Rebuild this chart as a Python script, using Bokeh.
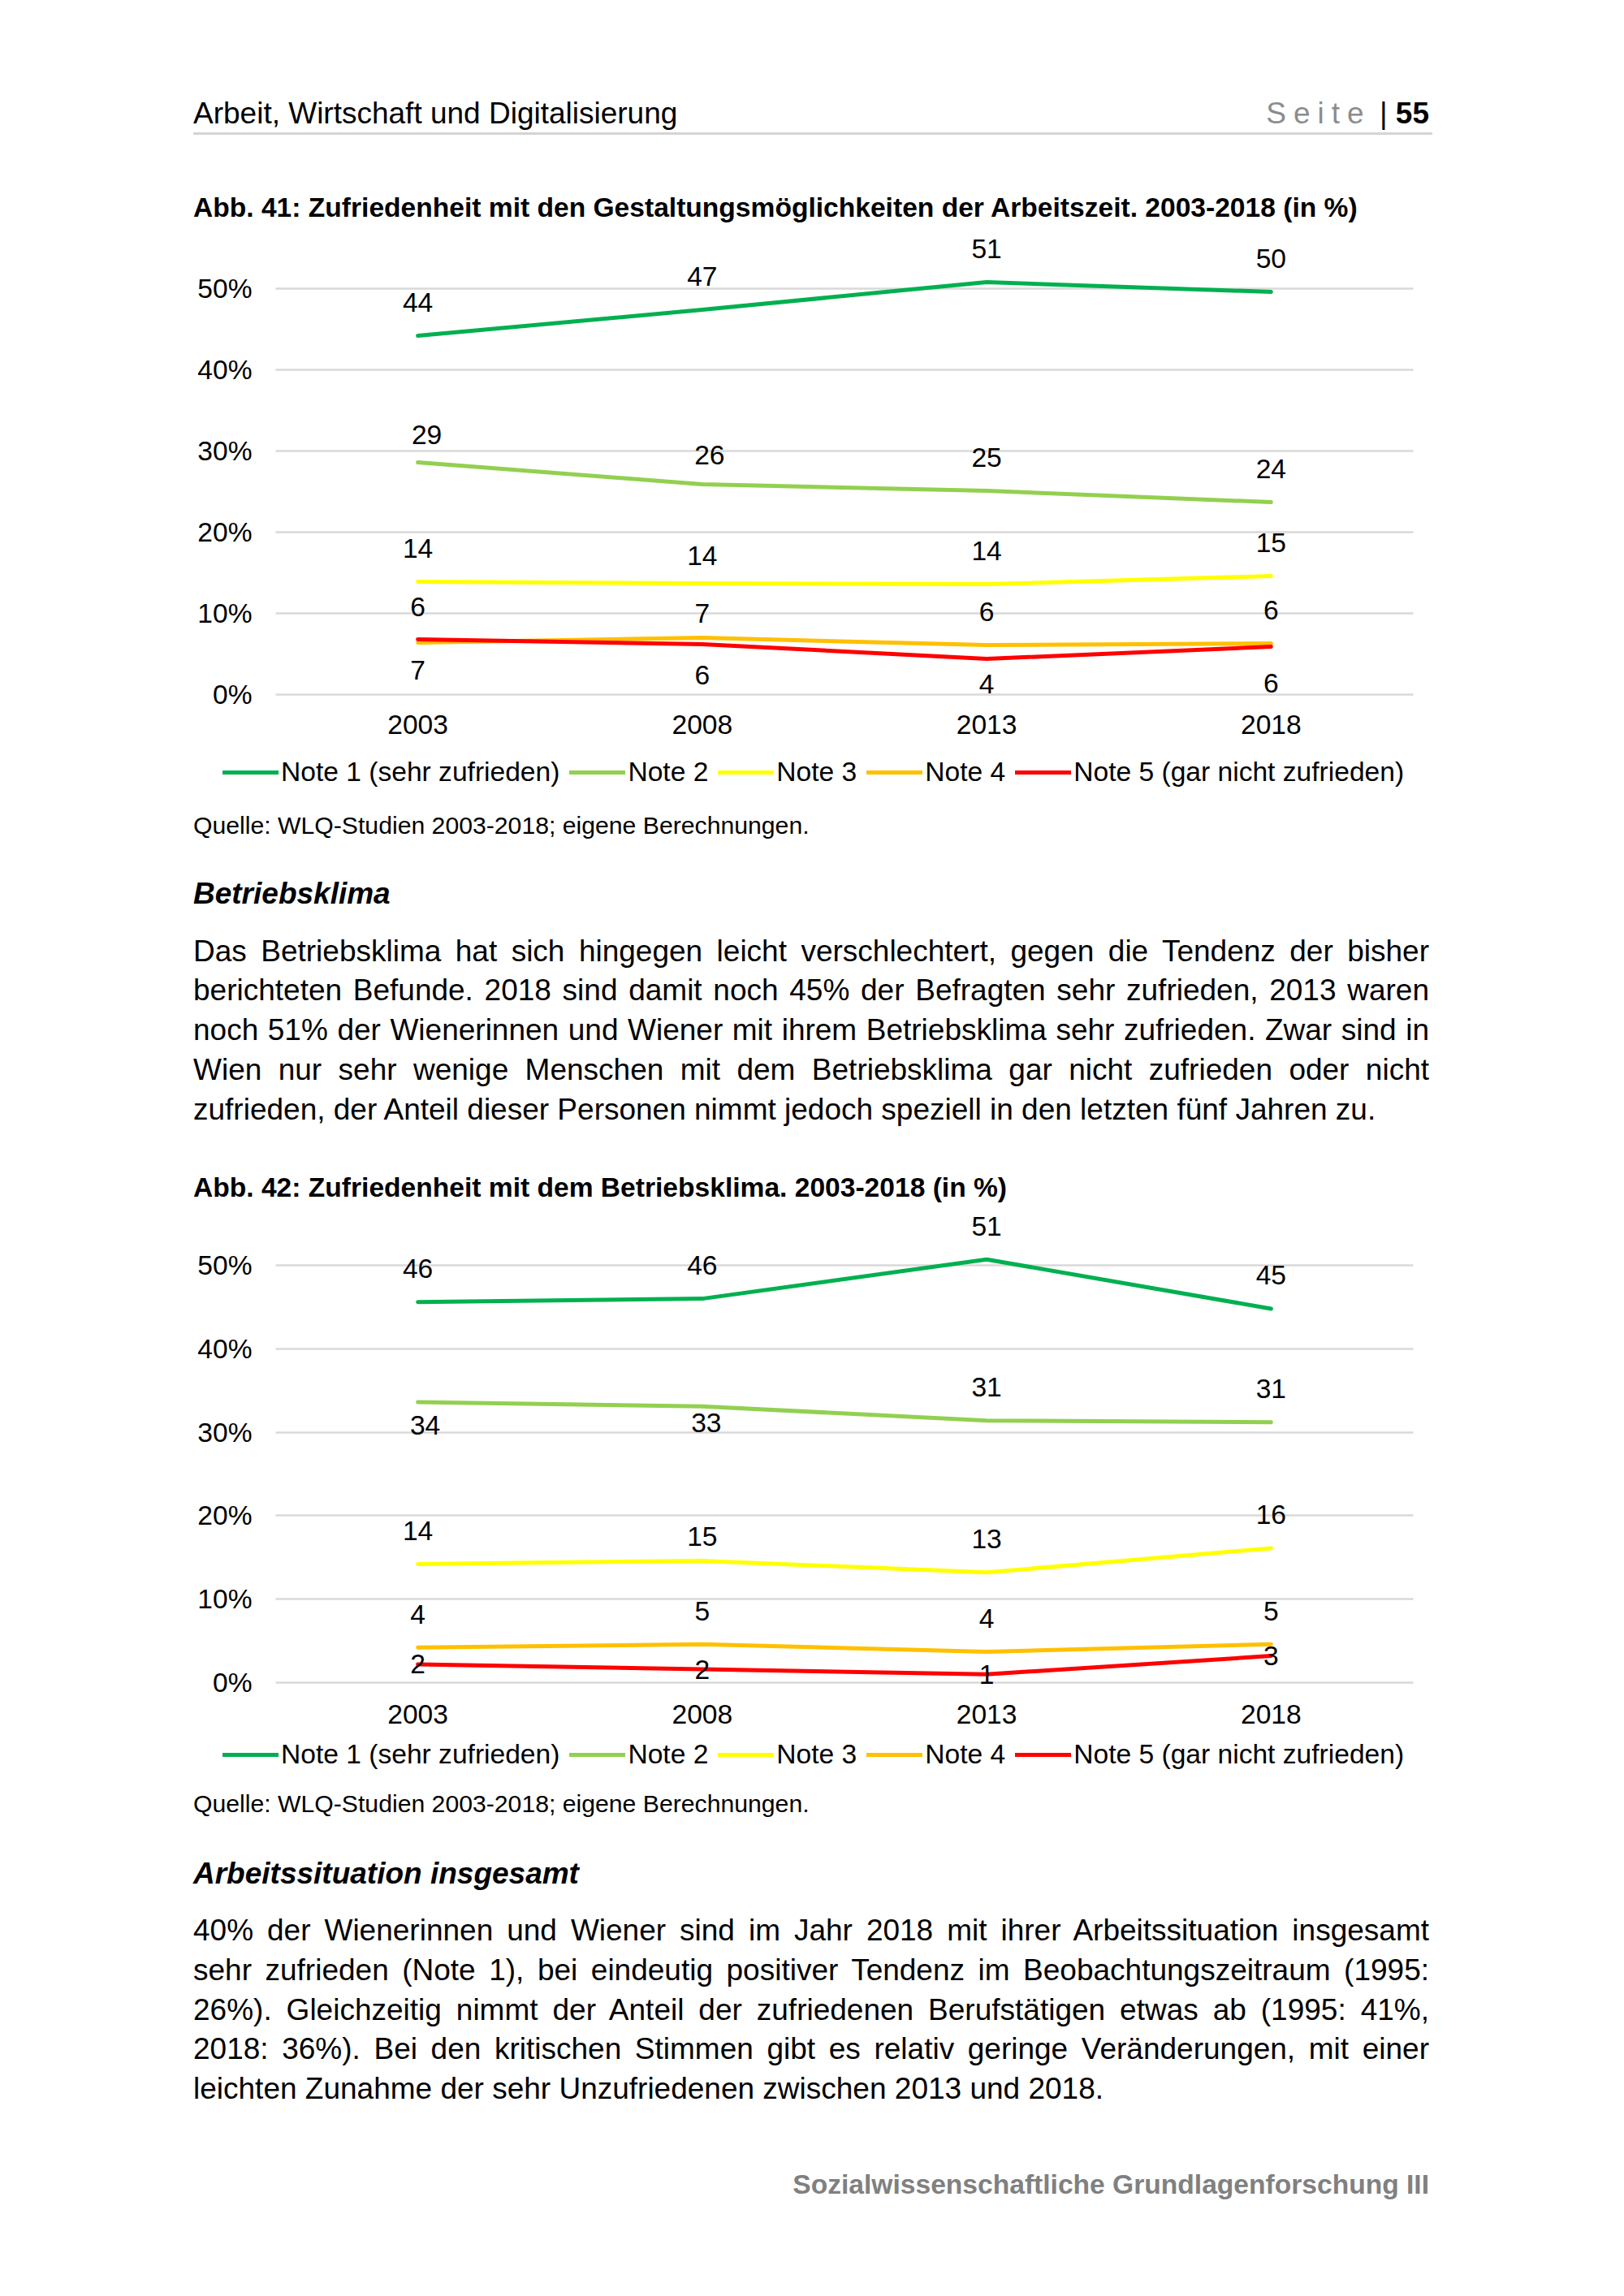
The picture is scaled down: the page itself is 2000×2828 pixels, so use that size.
from bokeh.plotting import figure
from bokeh.models import (ColumnDataSource, LabelSet, Legend, LegendItem, FixedTicker,
                          PrintfTickFormatter, Div, Range1d)
from bokeh.layouts import column
from bokeh.core.properties import value
from bokeh.embed import file_html
from bokeh.resources import INLINE

FONT = "Liberation Sans"

# ---------------- data ----------------
years = ["2003", "2008", "2013", "2018"]
series_names = ["Note 1 (sehr zufrieden)", "Note 2", "Note 3", "Note 4",
                "Note 5 (gar nicht zufrieden)"]
series_colors = ["#00B050", "#92D050", "#FFFF00", "#FFC000", "#FF0000"]
y_ticks = [0, 10, 20, 30, 40, 50]

# Abb. 41: Gestaltungsmöglichkeiten der Arbeitszeit
arbeitszeit_note1 = [44.2, 47.4, 50.8, 49.6]
arbeitszeit_note2 = [28.6, 25.9, 25.1, 23.7]
arbeitszeit_note3 = [13.9, 13.7, 13.6, 14.6]
arbeitszeit_note4 = [6.4, 7.0, 6.1, 6.3]
arbeitszeit_note5 = [6.8, 6.2, 4.4, 5.9]

# Abb. 42: Betriebsklima
klima_note1 = [45.6, 46.0, 50.7, 44.8]
klima_note2 = [33.6, 33.1, 31.4, 31.2]
klima_note3 = [14.2, 14.6, 13.2, 16.1]
klima_note4 = [4.2, 4.6, 3.7, 4.6]
klima_note5 = [2.2, 1.6, 1.0, 3.2]

# data-label placement (style, screen px: dy > 0 is above the point)
arbeitszeit_label_dy = [[41, 41, 41, 41], [34, 36, 41, 41], [41, 34, 41, 41],
                        [44, 30, 41, 41], [-38, -38, -31, -45]]
arbeitszeit_label_dx = [[0, 0, 0, 0], [11, 9, 0, 0], [0, 0, 0, 0], [0, 0, 0, 0], [0, 0, 0, 0]]
klima_label_dy = [[41, 41, 41, 41], [-28, -20, 41, 41], [41, 30, 41, 41],
                  [41, 41, 41, 41], [0, 0, 0, 0]]
klima_label_dx = [[0, 0, 0, 0], [9, 5, 0, 0], [0, 0, 0, 0], [0, 0, 0, 0], [0, 0, 0, 0]]

# ---------------- texts ----------------
header_left = "Arbeit, Wirtschaft und Digitalisierung"
title1 = "Abb. 41: Zufriedenheit mit den Gestaltungsmöglichkeiten der Arbeitszeit. 2003-2018 (in %)"
title2 = "Abb. 42: Zufriedenheit mit dem Betriebsklima. 2003-2018 (in %)"
source_text = "Quelle: WLQ-Studien 2003-2018; eigene Berechnungen."
heading1 = "Betriebsklima"
para1 = [
    "Das Betriebsklima hat sich hingegen leicht verschlechtert, gegen die Tendenz der bisher",
    "berichteten Befunde. 2018 sind damit noch 45% der Befragten sehr zufrieden, 2013 waren",
    "noch 51% der Wienerinnen und Wiener mit ihrem Betriebsklima sehr zufrieden. Zwar sind in",
    "Wien nur sehr wenige Menschen mit dem Betriebsklima gar nicht zufrieden oder nicht",
    "zufrieden, der Anteil dieser Personen nimmt jedoch speziell in den letzten fünf Jahren zu.",
]
heading2 = "Arbeitssituation insgesamt"
para2 = [
    "40% der Wienerinnen und Wiener sind im Jahr 2018 mit ihrer Arbeitssituation insgesamt",
    "sehr zufrieden (Note 1), bei eindeutig positiver Tendenz im Beobachtungszeitraum (1995:",
    "26%). Gleichzeitig nimmt der Anteil der zufriedenen Berufstätigen etwas ab (1995: 41%,",
    "2018: 36%). Bei den kritischen Stimmen gibt es relativ geringe Veränderungen, mit einer",
    "leichten Zunahme der sehr Unzufriedenen zwischen 2013 und 2018.",
]
footer_text = "Sozialwissenschaftliche Grundlagenforschung III"

# ---------------- layout constants (page px) ----------------
PAGE_W = 1984
TEXT_L, TEXT_R = 238, 1760
FRAME_L, FRAME_R = 339, 1740
DY = 3  # small vertical correction for text blocks


def tline(block_top, baseline, text, size, left=TEXT_L, width=None, weight="normal",
          style="normal", color="#000", align="left", justify=False, extra=""):
    L = round(size * 1.3)
    top = baseline - block_top - (L / 2 + 0.3465 * size)
    w = width if width is not None else TEXT_R - left
    css = (f"position:absolute;left:{left}px;top:{top:.1f}px;width:{w}px;"
           f"font-family:'{FONT}';font-size:{size}px;line-height:{L}px;"
           f"font-weight:{weight};font-style:{style};color:{color};")
    if justify:
        css += "text-align:justify;text-align-last:justify;"
    else:
        css += f"text-align:{align};white-space:nowrap;"
    css += extra
    return f'<div style="{css}">{text}</div>'


def block(top_page, bottom_page, items):
    h = bottom_page - top_page
    html = (f'<div style="position:relative;width:{PAGE_W}px;height:{h}px;">'
            + "".join(items) + "</div>")
    return Div(text=html, width=PAGE_W, height=h, margin=0)


def paragraph(block_top, first_baseline, lines, step=48.7):
    out = []
    for i, ln in enumerate(lines):
        last = i == len(lines) - 1
        out.append(tline(block_top, first_baseline + i * step, ln, 37,
                         width=TEXT_R - TEXT_L, justify=not last))
    return out


def build_chart(series_values, label_dx, label_dy, fig_top, fig_bottom, zero_px, px_per_unit,
                x_standoff, legend_center):
    n = len(years)
    ppx = (FRAME_R - FRAME_L) / n
    x_pos = [i + 1 for i in range(n)]
    x0 = 0.5  # left edge of first category
    p = figure(x_range=Range1d(x0 - FRAME_L / ppx, x0 + (PAGE_W - FRAME_L) / ppx),
               y_range=Range1d(-(fig_bottom - zero_px) / px_per_unit,
                               (zero_px - fig_top) / px_per_unit),
               width=PAGE_W, height=fig_bottom - fig_top, output_backend="svg",
               toolbar_location=None, min_border=0, min_border_left=0,
               min_border_right=0, min_border_top=0, min_border_bottom=0)
    p.outline_line_color = None
    p.xgrid.grid_line_color = None
    p.ygrid.ticker = FixedTicker(ticks=y_ticks)
    grid_color, grid_width = "#D9D9D9", 2.5
    p.ygrid.grid_line_color = grid_color
    p.ygrid.grid_line_width = grid_width
    try:
        p.ygrid.cross_bounds = (x0, x0 + n)
    except Exception:
        p.ygrid.grid_line_color = None
        p.segment(x0=[x0] * len(y_ticks), x1=[x0 + n] * len(y_ticks), y0=y_ticks, y1=y_ticks,
                  line_color=grid_color, line_width=grid_width, level="underlay")

    for ax in (p.xaxis[0], p.yaxis[0]):
        ax.axis_line_color = None
        ax.major_tick_line_color = None
        ax.minor_tick_line_color = None
        ax.major_tick_out = 0
        ax.major_tick_in = 0
        ax.minor_tick_out = 0
        ax.major_label_text_font = FONT
        ax.major_label_text_font_size = "33.6px"
        ax.major_label_text_color = "black"
    p.yaxis[0].fixed_location = x0
    p.yaxis[0].ticker = FixedTicker(ticks=y_ticks)
    p.yaxis[0].formatter = PrintfTickFormatter(format="%d%%")
    p.yaxis[0].major_label_standoff = 29
    p.xaxis[0].fixed_location = 0
    p.xaxis[0].ticker = FixedTicker(ticks=x_pos)
    p.xaxis[0].major_label_overrides = {x: yr for x, yr in zip(x_pos, years)}
    p.xaxis[0].major_label_standoff = x_standoff

    items = []
    lx, ly, lt, lox, loy = [], [], [], [], []
    for name, vals, color, dxs, dys in zip(series_names, series_values, series_colors,
                                           label_dx, label_dy):
        r = p.line(x_pos, vals, line_color=color, line_width=5,
                   line_join="round", line_cap="round")
        items.append(LegendItem(label=name, renderers=[r]))
        for xp, v, dx, dy in zip(x_pos, vals, dxs, dys):
            lx.append(xp)
            ly.append(v)
            lt.append(f"{v:.0f}")
            lox.append(dx)
            loy.append(dy)
    src = ColumnDataSource(dict(x=lx, y=ly, text=lt, xo=lox, yo=loy))
    labels = LabelSet(x="x", y="y", text="text", x_offset="xo", y_offset="yo", source=src,
                      text_align="center", text_baseline="middle",
                      text_font=value(FONT), text_font_size=value("33.6px"),
                      text_color="black")
    p.add_layout(labels)

    leg_h = 34
    legend = Legend(items=items, orientation="horizontal",
                    location=(274, fig_bottom - (legend_center + leg_h / 2)),
                    glyph_width=69, glyph_height=leg_h, label_height=leg_h,
                    label_standoff=3, spacing=12, padding=0, margin=0,
                    border_line_color=None, background_fill_alpha=0,
                    label_text_font=FONT, label_text_font_size="33.6px",
                    label_text_color="black")
    p.add_layout(legend)
    return p


# ---------------- blocks ----------------
A_TOP, A_BOT = 0, 275
F1_TOP, F1_BOT = 275, 985
B_TOP, B_BOT = 985, 1488
F2_TOP, F2_BOT = 1488, 2190
C_TOP, C_BOT = 2190, 2820

seite = ('<span style="color:#8C8C8C;letter-spacing:9px">Seite</span>'
         '<span style="color:#000"> | </span><b>55</b>')
div_a = block(A_TOP, A_BOT, [
    tline(A_TOP, 153, header_left, 37),
    tline(A_TOP, 153, seite, 37, left=0, width=TEXT_R, align="right"),
    f'<div style="position:absolute;left:{TEXT_L}px;top:{164 - A_TOP - 1.5}px;'
    f'width:{1764 - TEXT_L}px;height:3px;background:#D4D4D4"></div>',
    tline(A_TOP, 265 + DY, title1, 33.6, weight="bold"),
])

chart1 = build_chart(
    [arbeitszeit_note1, arbeitszeit_note2, arbeitszeit_note3, arbeitszeit_note4, arbeitszeit_note5],
    arbeitszeit_label_dx, arbeitszeit_label_dy,
    F1_TOP, F1_BOT, zero_px=855, px_per_unit=10.0, x_standoff=25, legend_center=953)

div_b = block(B_TOP, B_BOT, [
    tline(B_TOP, 1024 + DY, source_text, 30.2),
    tline(B_TOP, 1111 + DY, heading1, 37, weight="bold", style="italic"),
    *paragraph(B_TOP, 1181.5 + DY, para1),
    tline(B_TOP, 1472 + DY, title2, 33.6, weight="bold"),
])

chart2 = build_chart(
    [klima_note1, klima_note2, klima_note3, klima_note4, klima_note5],
    klima_label_dx, klima_label_dy,
    F2_TOP, F2_BOT, zero_px=2072, px_per_unit=10.28, x_standoff=27, legend_center=2162.5)

div_c = block(C_TOP, C_BOT, [
    tline(C_TOP, 2229 + DY, source_text, 30.2),
    tline(C_TOP, 2318 + DY, heading2, 37, weight="bold", style="italic"),
    *paragraph(C_TOP, 2388 + DY, para2),
    tline(C_TOP, 2700 + DY, footer_text, 33.6, left=0, width=TEXT_R, weight="bold",
          color="#808080", align="right"),
])

page = column(div_a, chart1, div_b, chart2, div_c, spacing=0)

with open("out.html", "w", encoding="utf-8") as f:
    f.write(file_html(page, INLINE, title="Seite 55"))
